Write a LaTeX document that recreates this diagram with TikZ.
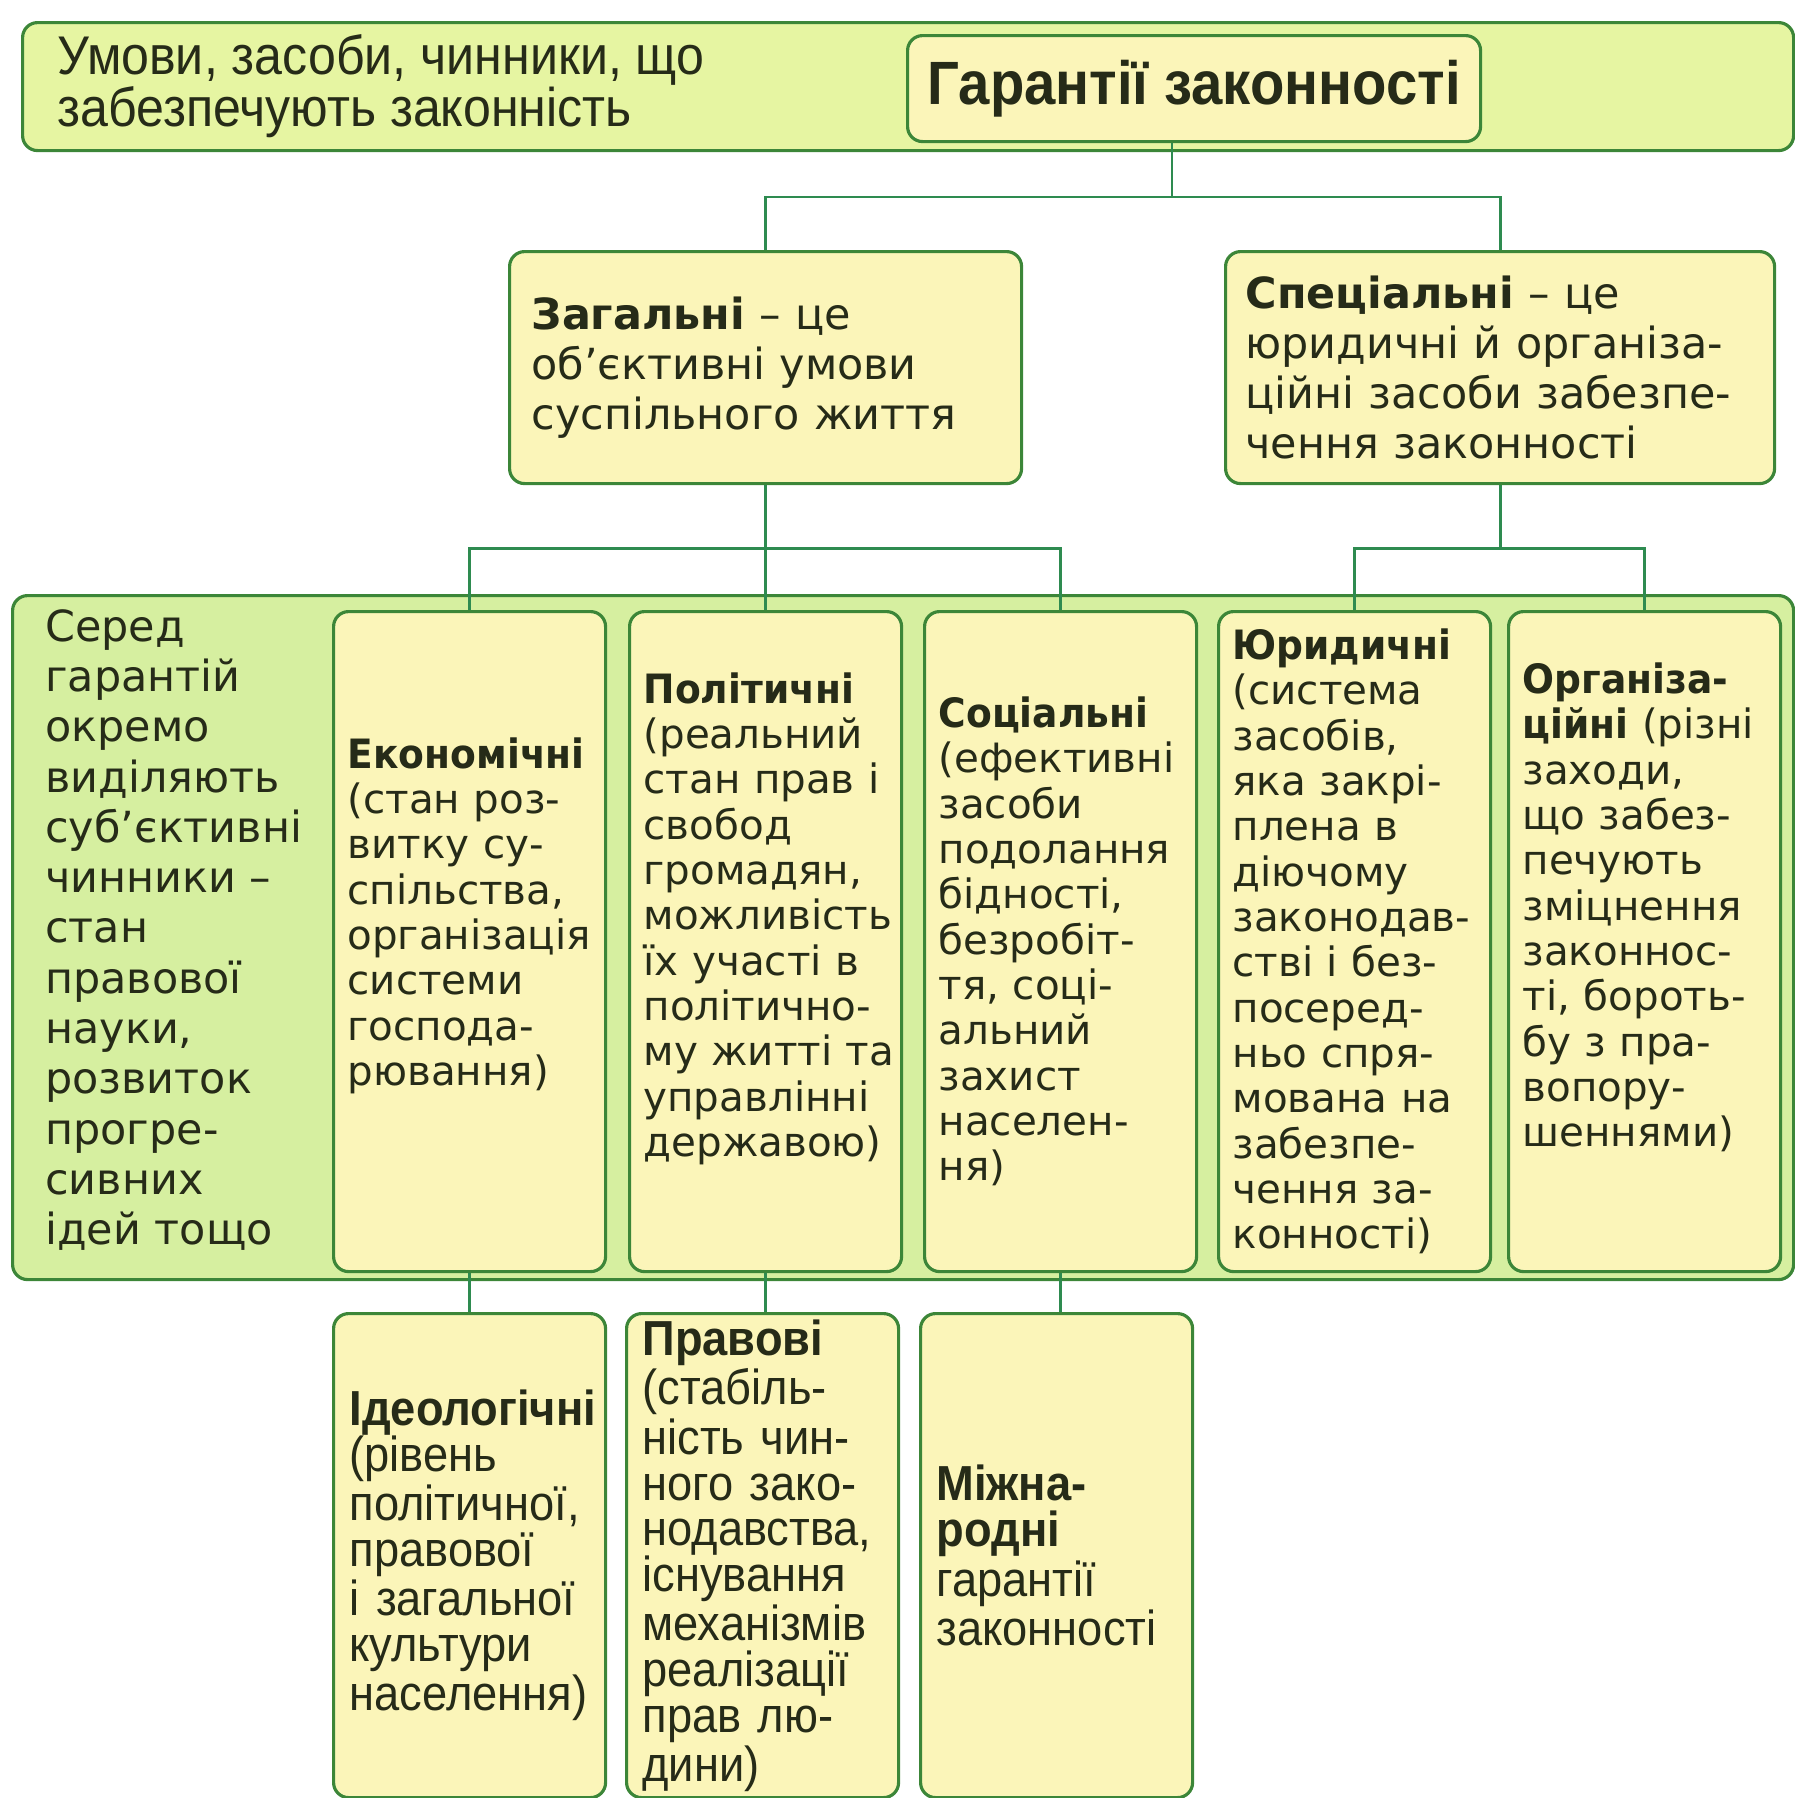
\documentclass[tikz,border=0pt]{standalone}
\usepackage{fontspec}
\setmainfont{DejaVu Sans}
\newfontfamily\boxfont{DejaVu Sans}[BoldFeatures={FakeStretch=0.93}]
\newfontfamily\narrowfont{Liberation Sans}[FakeStretch=0.92]
\definecolor{bandgreen}{HTML}{D6EFA0}
\definecolor{headgreen}{HTML}{E6F5A2}
\definecolor{boxyellow}{HTML}{FBF5B9}
\definecolor{edgegreen}{HTML}{3C8638}
\definecolor{linkgreen}{HTML}{2E8B50}
\definecolor{inkdark}{HTML}{262B18}
\hyphenpenalty=10000
\exhyphenpenalty=10000

\begin{document}
\begin{tikzpicture}
\tikzstyle{band}=[draw=edgegreen,line width=0.9pt,rounded corners=0.15cm,anchor=north west,inner sep=0pt]
\tikzstyle{frame}=[draw=edgegreen,fill=boxyellow,line width=0.9pt,rounded corners=0.15cm,anchor=north west,text=inkdark]
\tikzstyle{top}=[frame,align=left,inner ysep=0pt,minimum height=2.32cm,font=\fontsize{12.2}{14.3}\selectfont]
\tikzstyle{kind}=[frame,align=left,text width=2.44cm,inner xsep=0.14cm,inner ysep=0pt,minimum height=6.6cm,font=\boxfont\fontsize{11.5}{12.9}\selectfont]
\tikzstyle{narrowkind}=[kind,text width=2.40cm,inner xsep=0.16cm,minimum height=4.84cm,font=\narrowfont\fontsize{14}{13}\selectfont]
\tikzstyle{link}=[draw=linkgreen,line width=0.8pt]
\useasboundingbox (0,0) rectangle (17.94,-17.98);

\node[band,fill=headgreen,minimum width=17.71cm,minimum height=1.28cm] (head) at (0.21,-0.21) {};
\node[anchor=west,text=inkdark,align=left,font=\narrowfont\fontsize{15.5}{14.7}\selectfont] (about) at (0.45,-0.86) {Умови, засоби, чинники, що\\забезпечують законність};
\node[frame,minimum width=5.73cm,minimum height=1.06cm,font=\narrowfont\bfseries\fontsize{17.4}{20}\selectfont] (garant) at (9.06,-0.34) {Гарантії законності};

\node[top,text width=4.68cm,inner xsep=0.22cm] (gen) at (5.08,-2.50) {\textbf{Загальні} – це\\об’єктивні умови\\суспільного життя};
\node[top,text width=5.09cm,inner xsep=0.20cm] (spec) at (12.24,-2.50) {\textbf{Спеціальні} – це\\юридичні й організа-\\ційні засоби забезпе-\\чення законності};

\node[band,fill=bandgreen,minimum width=17.81cm,minimum height=6.84cm] (mid) at (0.11,-5.94) {};
\node[anchor=west,text=inkdark,align=left,font=\fontsize{12.2}{14.3}\selectfont] (subj) at (0.33,-9.30) {Серед\\гарантій\\окремо\\виділяють\\суб’єктивні\\чинники –\\стан\\правової\\науки,\\розвиток\\прогре-\\сивних\\ідей тощо};

\node[kind] (econ) at (3.32,-6.10) {\textbf{Економічні}\\(стан роз-\\витку су-\\спільства,\\організація\\системи\\господа-\\рювання)\par\vspace{0.52cm}};
\node[kind] (pol) at (6.28,-6.10) {\textbf{Політичні}\\(реальний\\стан прав і\\свобод\\громадян,\\можливість\\їх участі в\\політично-\\му~житті~та\\управлінні\\державою)\par\vspace{0.46cm}};
\node[kind] (soc) at (9.23,-6.10) {\textbf{Соціальні}\\(ефективні\\засоби\\подолання\\бідності,\\безробіт-\\тя, соці-\\альний\\захист\\населен-\\ня)};
\node[kind] (jur) at (12.17,-6.10) {\textbf{Юридичні}\\(система\\засобів,\\яка закрі-\\плена в\\діючому\\законодав-\\стві і без-\\посеред-\\ньо спря-\\мована на\\забезпе-\\чення за-\\конності)};
\node[kind] (org) at (15.07,-6.10) {\textbf{Організа-}\\\textbf{ційні} (різні\\заходи,\\що забез-\\печують\\зміцнення\\законнос-\\ті, бороть-\\бу з пра-\\вопору-\\шеннями)\par\vspace{0.68cm}};

\node[narrowkind] (ideo) at (3.32,-13.12) {\textbf{Ідеологічні}\\(рівень\\політичної,\\правової\\і загальної\\культури\\населення)};
\node[narrowkind] (law) at (6.25,-13.12) {\textbf{Правові}\\(стабіль-\\ність чин-\\ного зако-\\нодавства,\\існування\\механізмів\\реалізації\\прав лю-\\дини)};
\node[narrowkind] (intl) at (9.19,-13.12) {\textbf{Міжна-}\\\textbf{родні}\\гарантії\\законності};

\coordinate (j1) at (11.72,-1.97);
\path (gen.south) ++(0,-0.63) coordinate (gj);
\path (spec.south) ++(0,-0.63) coordinate (sj);
\draw[link] (j1 |- garant.south) -- (j1);
\draw[link] (gen.north) |- (j1) -| (spec.north);
\draw[link] (gen.south) -- (gj);
\draw[link] (econ.north) |- (gj) -| (soc.north);
\draw[link] (gj) -- (gj -| pol.north) -- (pol.north);
\draw[link] (spec.south) -- (sj);
\draw[link] (jur.north) |- (sj) -| (org.north);
\draw[link] (econ.south) -- (ideo.north);
\draw[link] (pol.south) -- (pol.south |- law.north);
\draw[link] (soc.south) -- (soc.south |- intl.north);
\end{tikzpicture}
\end{document}
